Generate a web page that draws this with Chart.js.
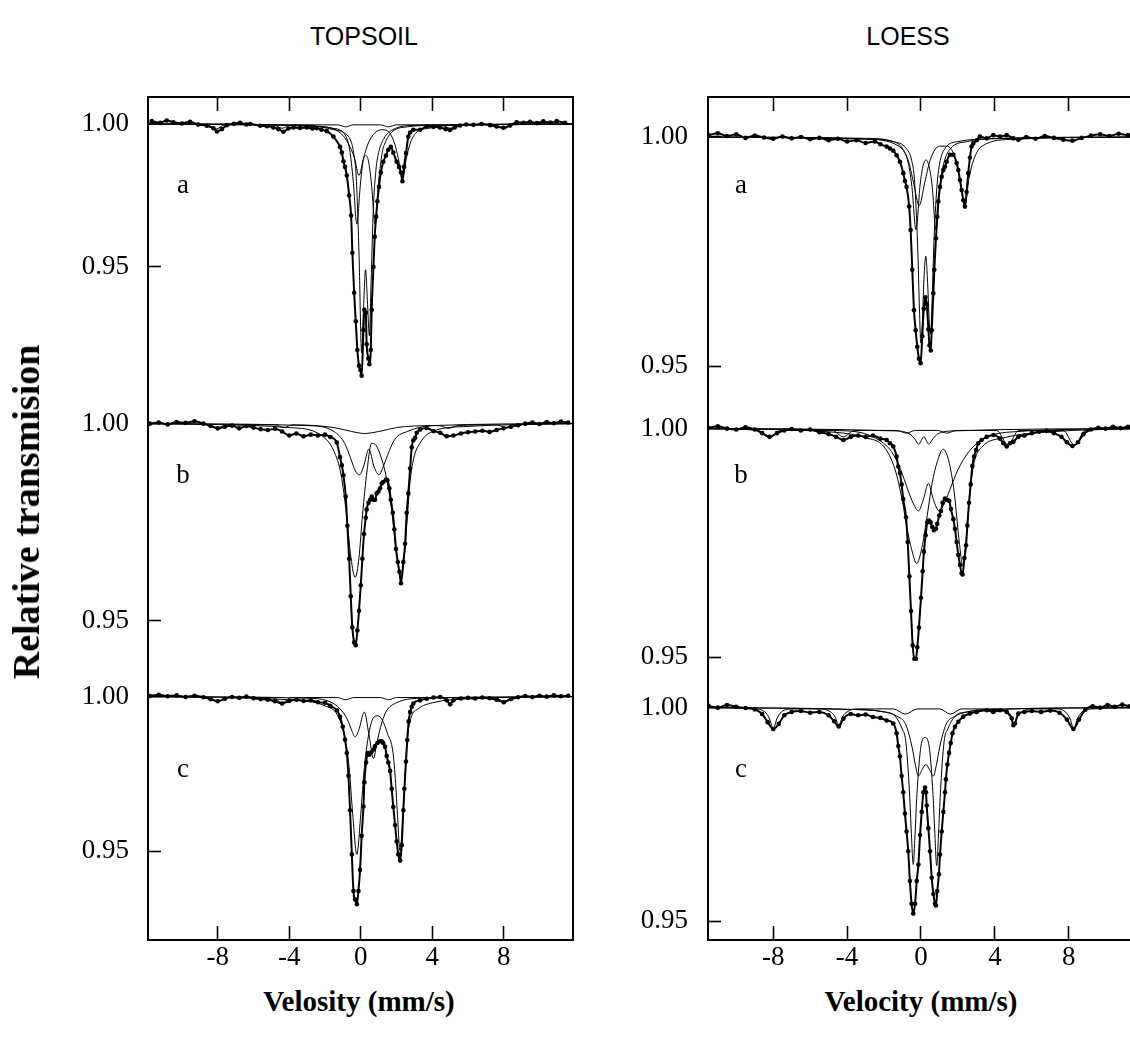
<!DOCTYPE html>
<html>
<head>
<meta charset="utf-8">
<script src="https://cdn.jsdelivr.net/npm/chart.js@4.4.0/dist/chart.umd.min.js"></script>
<style>
  html, body { margin: 0; padding: 0; background: #fff; overflow: hidden; }
  #fig { position: relative; width: 1130px; height: 1055px; overflow: hidden; background: #fff; }
  canvas { position: absolute; }
  .lbl { position: absolute; transform: translate(-50%, -50%); line-height: 1; white-space: nowrap; color: #000; z-index: 5; }
  .title { font: 25px "Liberation Sans", Arial, sans-serif; }
  .xtitle { font: bold 29px "Liberation Serif", "Times New Roman", serif; }
  .ytitle { font: bold 38px "Liberation Serif", "Times New Roman", serif; transform: translate(-50%, -50%) rotate(-90deg); }
  .tag { font: 27px "Liberation Serif", "Times New Roman", serif; }
</style>
</head>
<body>
<div id="fig">
  <canvas id="topA" width="579" height="306" style="left:0px;top:93px"></canvas>
  <canvas id="topB" width="579" height="277" style="left:0px;top:395px"></canvas>
  <canvas id="topC" width="579" height="316" style="left:0px;top:668px"></canvas>
  <canvas id="loeA" width="527" height="306" style="left:620px;top:93px"></canvas>
  <canvas id="loeB" width="527" height="289" style="left:620px;top:395px"></canvas>
  <canvas id="loeC" width="527" height="304" style="left:620px;top:680px"></canvas>

  <div class="lbl title" style="left:364px;top:36px">TOPSOIL</div>
  <div class="lbl title" style="left:908px;top:36px">LOESS</div>
  <div class="lbl ytitle" style="left:26px;top:512px">Relative transmision</div>
  <div class="lbl xtitle" style="left:359px;top:1001px">Velosity (mm/s)</div>
  <div class="lbl xtitle" style="left:921px;top:1001px">Velocity (mm/s)</div>
  <div class="lbl tag" style="left:183px;top:184px">a</div>
  <div class="lbl tag" style="left:183px;top:474px">b</div>
  <div class="lbl tag" style="left:183px;top:768px">c</div>
  <div class="lbl tag" style="left:741px;top:184px">a</div>
  <div class="lbl tag" style="left:741px;top:474px">b</div>
  <div class="lbl tag" style="left:741px;top:768px">c</div>
</div>
<script>
// tick values
const velTicks = [-8, -4, 0, 4, 8];
const transTicks = [0.95, 1.00];

// ---- TOPSOIL a : measured points [velocity mm/s, relative transmission]
const topA_data = [[-11.69,1.0010],[-11.22,1.0004],[-10.85,1.0012],[-10.48,1.0006],[-10.0,1.0002],[-9.55,1.0008],[-9.1,0.9998],[-8.61,0.9994],[-8.24,0.9985],[-8.05,0.9974],[-7.77,0.9982],[-7.49,0.9996],[-7.1,1.0001],[-6.75,1.0004],[-6.4,0.9998],[-6.19,1.0000],[-5.63,0.9994],[-5.25,0.9992],[-4.89,0.9988],[-4.6,0.9982],[-4.33,0.9973],[-4.05,0.9984],[-3.77,0.9988],[-3.4,0.9986],[-3.02,0.9988],[-2.7,0.9984],[-2.46,0.9985],[-2.2,0.9980],[-1.90,0.9975],[-1.53,0.9956],[-1.16,0.9920],[-1.06,0.9900],[-0.97,0.9870],[-0.88,0.9850],[-0.78,0.9820],[-0.65,0.9750],[-0.54,0.9680],[-0.47,0.9550],[-0.37,0.9410],[-0.28,0.9310],[-0.19,0.9210],[-0.10,0.9155],[-0.02,0.9140],[0.05,0.9120],[0.15,0.9280],[0.20,0.9350],[0.28,0.9340],[0.33,0.9230],[0.43,0.9180],[0.48,0.9160],[0.56,0.9210],[0.61,0.9350],[0.71,0.9500],[0.78,0.9606],[0.86,0.9676],[0.93,0.9730],[1.02,0.9780],[1.12,0.9830],[1.26,0.9868],[1.41,0.9890],[1.54,0.9910],[1.68,0.9920],[1.82,0.9900],[2.01,0.9868],[2.14,0.9850],[2.25,0.9830],[2.33,0.9800],[2.42,0.9850],[2.53,0.9898],[2.66,0.9956],[2.76,0.9970],[2.94,0.9980],[3.32,0.9980],[3.69,0.9991],[4.06,0.9990],[4.43,0.9988],[4.75,0.9982],[4.99,0.9979],[5.25,0.9988],[5.55,0.9995],[5.9,0.9998],[6.30,0.9997],[6.75,1.0000],[7.23,0.9996],[7.6,0.9991],[7.98,0.9987],[8.35,0.9995],[8.72,1.0006],[9.1,1.0004],[9.47,1.0008],[9.85,1.0003],[10.21,1.0009],[10.6,1.0005],[10.96,1.0010],[11.43,1.0004]];
const topA_c1 = [[-11.9,1],[-3,0.9995],[-1.5,0.998],[-0.95,0.997],[-0.55,0.994],[-0.4,0.990],[-0.25,0.981],[-0.1,0.955],[0.05,0.920],[0.15,0.935],[0.27,0.949],[0.38,0.937],[0.48,0.926],[0.58,0.945],[0.7,0.970],[0.85,0.984],[1.0,0.990],[1.3,0.995],[1.8,0.998],[3,0.9995],[11.9,1]];
const topA_c2 = [[-11.9,1],[-3,0.9995],[-1.6,0.9985],[-1.2,0.998],[-0.82,0.9955],[-0.62,0.991],[-0.42,0.980],[-0.22,0.965],[-0.02,0.979],[0.13,0.987],[0.28,0.989],[0.43,0.987],[0.6,0.979],[0.8,0.965],[1.0,0.980],[1.2,0.990],[1.4,0.994],[1.8,0.9975],[2.6,0.999],[4,0.9995],[11.9,1]];
const topA_c3 = [[-11.9,1],[-2,0.999],[-1.0,0.996],[-0.6,0.992],[-0.35,0.988],[-0.1,0.982],[0.15,0.988],[0.4,0.993],[0.8,0.997],[1.2,0.998],[1.6,0.997],[1.9,0.993],[2.1,0.988],[2.33,0.981],[2.55,0.988],[2.75,0.993],[3.1,0.997],[3.8,0.9985],[5,0.9995],[11.9,1]];
const topA_c4 = [[-11.9,1],[-8.6,0.9997],[-8.1,0.9982],[-7.6,0.9997],[-4.9,0.9997],[-4.4,0.9985],[-3.9,0.9997],[-1.3,0.9997],[-0.85,0.999],[-0.4,0.9997],[1.1,0.9997],[1.55,0.999],[2.0,0.9997],[4.5,0.9997],[5.0,0.9985],[5.5,0.9997],[7.5,0.9997],[8.0,0.9983],[8.5,0.9997],[11.9,1]];

// ---- TOPSOIL b
const topB_data = [[-11.8,1.0000],[-11.3,1.0003],[-10.8,0.9998],[-10.3,1.0004],[-9.8,1.0002],[-9.3,1.0006],[-8.8,1.0000],[-8.4,0.9994],[-8.0,0.9988],[-7.6,0.9992],[-7.2,0.9995],[-6.8,0.9988],[-6.4,0.9994],[-6.0,0.9990],[-5.6,0.9986],[-5.2,0.9984],[-4.8,0.9987],[-4.4,0.9980],[-4.0,0.9970],[-3.6,0.9975],[-3.2,0.9968],[-2.8,0.9972],[-2.4,0.9970],[-2.0,0.9972],[-1.7,0.9966],[-1.34,0.9952],[-1.16,0.9915],[-1.06,0.9894],[-0.97,0.9869],[-0.84,0.9815],[-0.75,0.9741],[-0.65,0.9657],[-0.56,0.9562],[-0.47,0.9483],[-0.37,0.9445],[-0.28,0.9438],[-0.19,0.9475],[-0.10,0.9525],[0.00,0.9590],[0.09,0.9657],[0.18,0.9720],[0.28,0.9761],[0.33,0.9782],[0.43,0.9799],[0.52,0.9807],[0.61,0.9815],[0.71,0.9807],[0.80,0.9807],[0.89,0.9823],[0.99,0.9828],[1.08,0.9836],[1.17,0.9848],[1.26,0.9852],[1.41,0.9858],[1.49,0.9856],[1.60,0.9836],[1.68,0.9807],[1.79,0.9774],[1.88,0.9732],[1.97,0.9682],[2.07,0.9649],[2.16,0.9624],[2.25,0.9595],[2.38,0.9649],[2.48,0.9695],[2.57,0.9774],[2.66,0.9823],[2.76,0.9886],[2.85,0.9940],[2.94,0.9958],[3.04,0.9964],[3.13,0.9977],[3.32,0.9985],[3.69,0.9989],[4.06,0.9981],[4.44,0.9977],[4.81,0.9968],[5.18,0.9970],[5.6,0.9975],[6.0,0.9978],[6.4,0.9980],[6.8,0.9982],[7.2,0.9979],[7.6,0.9984],[8.0,0.9988],[8.4,0.9992],[8.8,0.9996],[9.2,1.0000],[9.6,1.0003],[10.0,0.9999],[10.4,1.0004],[10.8,1.0001],[11.2,1.0005],[11.6,1.0003]];
const topB_c1 = [[-11.9,1],[-4,0.999],[-2.2,0.997],[-1.5,0.993],[-1.1,0.987],[-0.8,0.977],[-0.55,0.966],[-0.31,0.961],[-0.1,0.966],[0.1,0.977],[0.35,0.988],[0.6,0.995],[0.85,0.9945],[1.1,0.992],[1.4,0.987],[1.7,0.979],[1.95,0.969],[2.25,0.961],[2.45,0.967],[2.6,0.976],[2.75,0.985],[2.95,0.991],[3.3,0.995],[4.0,0.998],[6,0.9993],[11.9,1]];
const topB_c2 = [[-11.9,1],[-3,0.9995],[-1.5,0.998],[-0.9,0.995],[-0.55,0.991],[-0.3,0.988],[-0.08,0.987],[0.15,0.989],[0.45,0.9935],[0.75,0.989],[1.02,0.987],[1.25,0.989],[1.5,0.992],[1.9,0.996],[2.6,0.998],[4,0.9995],[11.9,1]];
const topB_c3 = [[-11.9,1],[-8.5,0.9997],[-8.0,0.999],[-7.5,0.9997],[-4.8,0.9997],[-4.3,0.999],[-3.8,0.9997],[-1.5,0.999],[-0.5,0.998],[0.2,0.9975],[1.0,0.998],[2.0,0.999],[3.0,0.9994],[4.4,0.9995],[4.9,0.9988],[5.4,0.9995],[7.6,0.9997],[8.1,0.999],[8.6,0.9997],[11.9,1]];

// ---- TOPSOIL c
const topC_data = [[-11.8,1.0002],[-11.3,1.0006],[-10.8,1.0001],[-10.3,1.0004],[-9.8,0.9999],[-9.3,1.0003],[-8.8,0.9998],[-8.4,0.9992],[-8.0,0.9985],[-7.6,0.9993],[-7.2,0.9999],[-6.8,0.9996],[-6.4,1.0000],[-6.0,0.9995],[-5.6,0.9992],[-5.2,0.9990],[-4.8,0.9985],[-4.4,0.9978],[-4.0,0.9986],[-3.6,0.9990],[-3.2,0.9986],[-2.8,0.9988],[-2.4,0.9982],[-2.0,0.9980],[-1.7,0.9970],[-1.34,0.9956],[-1.16,0.9935],[-1.01,0.9903],[-0.88,0.9861],[-0.78,0.9818],[-0.69,0.9744],[-0.60,0.9633],[-0.50,0.9490],[-0.41,0.9372],[-0.32,0.9344],[-0.22,0.9329],[-0.13,0.9372],[-0.04,0.9440],[0.05,0.9550],[0.15,0.9645],[0.20,0.9723],[0.30,0.9787],[0.39,0.9818],[0.48,0.9812],[0.58,0.9820],[0.71,0.9829],[0.80,0.9840],[0.93,0.9850],[1.08,0.9856],[1.17,0.9856],[1.26,0.9850],[1.36,0.9838],[1.45,0.9808],[1.54,0.9787],[1.64,0.9760],[1.73,0.9702],[1.82,0.9643],[1.92,0.9585],[2.01,0.9532],[2.10,0.9490],[2.20,0.9470],[2.29,0.9520],[2.38,0.9633],[2.44,0.9702],[2.53,0.9790],[2.60,0.9860],[2.68,0.9920],[2.76,0.9950],[2.85,0.9967],[2.94,0.9978],[3.32,0.9988],[3.69,0.9993],[4.06,0.9997],[4.44,0.9999],[4.81,0.9988],[5.0,0.9975],[5.18,0.9988],[5.6,0.9994],[6.0,0.9996],[6.4,0.9994],[6.8,0.9997],[7.2,0.9995],[7.6,0.9990],[8.0,0.9982],[8.4,0.9992],[8.8,0.9998],[9.2,1.0002],[9.6,0.9999],[10.0,1.0003],[10.4,1.0000],[10.8,1.0004],[11.2,1.0001],[11.6,1.0003]];
const topC_c1 = [[-11.9,1],[-4,0.999],[-2,0.997],[-1.3,0.994],[-0.9,0.987],[-0.65,0.977],[-0.45,0.962],[-0.22,0.949],[0.0,0.962],[0.2,0.977],[0.45,0.988],[0.75,0.9935],[0.95,0.9938],[1.2,0.9925],[1.5,0.988],[1.8,0.982],[1.95,0.972],[2.05,0.962],[2.2,0.950],[2.32,0.958],[2.45,0.972],[2.6,0.986],[2.8,0.993],[3.2,0.996],[4,0.998],[6,0.9993],[11.9,1]];
const topC_c2 = [[-11.9,1],[-3,0.9995],[-1.6,0.998],[-1.0,0.995],[-0.7,0.992],[-0.5,0.989],[-0.32,0.987],[-0.12,0.989],[0.2,0.995],[0.45,0.988],[0.71,0.980],[0.9,0.985],[1.1,0.990],[1.4,0.995],[2.0,0.998],[3.5,0.9995],[11.9,1]];
const topC_c3 = [[-11.9,1],[-8.5,0.9997],[-8.0,0.9985],[-7.5,0.9997],[-4.9,0.9997],[-4.4,0.998],[-3.9,0.9997],[-1.3,0.9997],[-0.85,0.999],[-0.4,0.9997],[1.1,0.9997],[1.55,0.999],[2.0,0.9997],[4.5,0.9997],[5.0,0.998],[5.5,0.9997],[7.5,0.9997],[8.0,0.9985],[8.5,0.9997],[11.9,1]];

// ---- LOESS a
const loeA_data = [[-11.5,1.0004],[-11.0,1.0008],[-10.5,1.0002],[-10.0,1.0006],[-9.5,0.9998],[-9.0,1.0003],[-8.5,0.9999],[-8.0,0.9996],[-7.5,1.0001],[-7.0,0.9997],[-6.5,1.0000],[-6.0,0.9995],[-5.5,0.9998],[-5.0,0.9993],[-4.5,0.9996],[-4.0,0.9990],[-3.5,0.9993],[-3.0,0.9987],[-2.5,0.9990],[-2.2,0.9984],[-1.86,0.9979],[-1.68,0.9975],[-1.50,0.9970],[-1.32,0.9960],[-1.14,0.9946],[-0.96,0.9921],[-0.87,0.9904],[-0.78,0.9891],[-0.64,0.9848],[-0.56,0.9797],[-0.47,0.9710],[-0.38,0.9622],[-0.29,0.9578],[-0.20,0.9542],[-0.11,0.9516],[-0.02,0.9506],[0.07,0.9565],[0.15,0.9625],[0.24,0.9650],[0.31,0.9635],[0.40,0.9580],[0.46,0.9545],[0.53,0.9534],[0.58,0.9578],[0.67,0.9659],[0.72,0.9710],[0.81,0.9779],[0.88,0.9826],[0.94,0.9859],[1.03,0.9891],[1.12,0.9913],[1.21,0.9928],[1.30,0.9935],[1.39,0.9946],[1.57,0.9961],[1.75,0.9961],[1.93,0.9943],[2.02,0.9928],[2.11,0.9906],[2.20,0.9884],[2.29,0.9862],[2.38,0.9848],[2.47,0.9880],[2.56,0.9921],[2.65,0.9955],[2.74,0.9979],[2.83,0.9986],[3.02,0.9993],[3.19,1.0001],[3.56,0.9997],[3.91,1.0004],[4.28,1.0001],[4.64,1.0004],[5.00,0.9997],[5.27,0.9994],[5.7,1.0000],[6.2,0.9996],[6.7,1.0002],[7.2,0.9998],[7.7,0.9994],[8.2,0.9992],[8.7,0.9998],[9.2,1.0003],[9.7,1.0006],[10.2,1.0002],[10.7,1.0007],[11.2,1.0004],[11.7,1.0005]];
const loeA_c1 = [[-11.9,1],[-3,0.9996],[-1.5,0.999],[-0.8,0.9975],[-0.5,0.9948],[-0.34,0.990],[-0.18,0.976],[-0.08,0.962],[-0.01,0.955],[0.07,0.959],[0.16,0.969],[0.26,0.974],[0.36,0.968],[0.45,0.9595],[0.52,0.957],[0.6,0.964],[0.69,0.976],[0.86,0.989],[1.0,0.994],[1.3,0.9975],[2.0,0.999],[4,0.9996],[11.9,1]];
const loeA_c2 = [[-11.9,1],[-3,0.9997],[-1.5,0.999],[-1.0,0.9975],[-0.7,0.9945],[-0.5,0.9895],[-0.27,0.9797],[-0.05,0.9895],[0.1,0.9935],[0.27,0.995],[0.44,0.9935],[0.6,0.9895],[0.81,0.9797],[1.03,0.9895],[1.25,0.9945],[1.6,0.9975],[2.5,0.999],[4,0.9997],[11.9,1]];
const loeA_c3 = [[-11.9,1],[-3,0.9995],[-1.2,0.998],[-0.7,0.995],[-0.4,0.990],[-0.1,0.985],[0.2,0.990],[0.5,0.995],[1.0,0.998],[1.4,0.998],[1.8,0.996],[2.1,0.991],[2.38,0.9852],[2.6,0.991],[2.85,0.995],[3.3,0.998],[5,0.9995],[11.9,1]];

// ---- LOESS b
const loeB_data = [[-11.5,1.0002],[-11.0,1.0005],[-10.5,1.0000],[-10.0,0.9998],[-9.5,1.0003],[-9.0,0.9998],[-8.6,0.9990],[-8.2,0.9982],[-7.8,0.9990],[-7.4,0.9996],[-7.0,0.9999],[-6.5,0.9996],[-6.0,0.9998],[-5.5,0.9992],[-5.0,0.9988],[-4.6,0.9982],[-4.2,0.9975],[-3.8,0.9982],[-3.4,0.9985],[-3.0,0.9982],[-2.6,0.9985],[-2.2,0.9978],[-1.86,0.9975],[-1.68,0.9968],[-1.50,0.9961],[-1.32,0.9939],[-1.23,0.9917],[-1.14,0.9903],[-1.05,0.9878],[-0.96,0.9846],[-0.81,0.9806],[-0.72,0.9752],[-0.63,0.9677],[-0.54,0.9601],[-0.45,0.9526],[-0.36,0.9497],[-0.27,0.9497],[-0.20,0.9522],[-0.11,0.9565],[0.00,0.9630],[0.09,0.9688],[0.16,0.9731],[0.25,0.9767],[0.34,0.9795],[0.43,0.9799],[0.52,0.9795],[0.61,0.9785],[0.70,0.9778],[0.81,0.9781],[0.88,0.9792],[0.99,0.9810],[1.08,0.9820],[1.17,0.9838],[1.30,0.9847],[1.43,0.9844],[1.53,0.9842],[1.62,0.9824],[1.75,0.9802],[1.84,0.9781],[1.93,0.9752],[2.02,0.9724],[2.11,0.9702],[2.20,0.9684],[2.25,0.9681],[2.35,0.9717],[2.44,0.9745],[2.51,0.9788],[2.60,0.9838],[2.69,0.9878],[2.78,0.9918],[2.87,0.9939],[2.98,0.9953],[3.10,0.9968],[3.28,0.9975],[3.56,0.9982],[3.92,0.9986],[4.28,0.9978],[4.46,0.9968],[4.64,0.9961],[4.82,0.9968],[5.00,0.9971],[5.27,0.9982],[5.6,0.9985],[6.0,0.9990],[6.4,0.9993],[6.8,0.9995],[7.2,0.9990],[7.6,0.9982],[7.9,0.9970],[8.2,0.9962],[8.5,0.9970],[8.8,0.9988],[9.2,0.9998],[9.6,1.0002],[10.0,1.0000],[10.4,1.0004],[10.8,1.0001],[11.2,1.0004],[11.6,1.0002]];
const loeB_c1 = [[-11.9,1],[-5,0.9993],[-3,0.998],[-2,0.996],[-1.4,0.991],[-1.0,0.984],[-0.75,0.978],[-0.5,0.9735],[-0.23,0.9705],[0.05,0.974],[0.3,0.980],[0.6,0.988],[0.9,0.993],[1.2,0.9955],[1.5,0.993],[1.8,0.986],[2.05,0.976],[2.27,0.970],[2.4,0.974],[2.55,0.981],[2.7,0.988],[2.9,0.993],[3.3,0.996],[4.5,0.998],[7,0.9993],[11.9,1]];
const loeB_c2 = [[-11.9,1],[-4,0.9995],[-2.5,0.998],[-1.6,0.995],[-1.1,0.991],[-0.7,0.9865],[-0.4,0.9835],[-0.14,0.982],[0.13,0.9845],[0.40,0.988],[0.67,0.9845],[0.98,0.982],[1.25,0.9835],[1.55,0.9865],[2.0,0.991],[2.6,0.995],[3.5,0.998],[5,0.9993],[11.9,1]];
const loeB_c3 = [[-11.9,1],[-1.5,0.9995],[-0.6,0.9988],[-0.35,0.9978],[-0.12,0.9966],[0.15,0.9982],[0.42,0.9966],[0.65,0.9978],[0.9,0.9988],[1.8,0.9995],[11.9,1]];
const loeB_c4 = [[-11.9,1],[-8.8,0.9996],[-8.2,0.998],[-7.6,0.9996],[-4.8,0.9996],[-4.2,0.9982],[-3.6,0.9996],[-1.3,0.9996],[-0.8,0.999],[-0.3,0.9996],[0.9,0.9996],[1.4,0.999],[1.9,0.9996],[4.1,0.9996],[4.7,0.9965],[5.3,0.9996],[7.7,0.9996],[8.3,0.9964],[8.9,0.9996],[11.9,1]];

// ---- LOESS c
const loeC_data = [[-11.5,1.0004],[-11.0,1.0000],[-10.5,1.0006],[-10.0,1.0002],[-9.5,0.9999],[-9.0,0.9996],[-8.6,0.9985],[-8.3,0.9966],[-8.0,0.9950],[-7.7,0.9962],[-7.4,0.9982],[-7.0,0.9990],[-6.5,0.9992],[-6.0,0.9988],[-5.5,0.9990],[-5.0,0.9982],[-4.7,0.9968],[-4.45,0.9956],[-4.2,0.9974],[-3.8,0.9985],[-3.4,0.9982],[-3.0,0.9984],[-2.6,0.9978],[-2.2,0.9976],[-1.86,0.9970],[-1.50,0.9963],[-1.32,0.9940],[-1.23,0.9910],[-1.14,0.9886],[-1.05,0.9840],[-0.96,0.9802],[-0.87,0.9752],[-0.78,0.9710],[-0.69,0.9664],[-0.60,0.9594],[-0.51,0.9541],[-0.42,0.9518],[-0.32,0.9541],[-0.23,0.9594],[-0.14,0.9633],[-0.05,0.9702],[0.04,0.9756],[0.13,0.9802],[0.22,0.9813],[0.27,0.9802],[0.31,0.9771],[0.40,0.9718],[0.49,0.9664],[0.58,0.9602],[0.67,0.9564],[0.76,0.9541],[0.81,0.9537],[0.88,0.9571],[0.97,0.9610],[1.03,0.9656],[1.12,0.9710],[1.21,0.9756],[1.30,0.9802],[1.35,0.9832],[1.43,0.9867],[1.52,0.9894],[1.61,0.9917],[1.71,0.9940],[1.84,0.9955],[2.02,0.9967],[2.29,0.9979],[2.65,0.9986],[3.02,0.9990],[3.56,0.9994],[3.91,0.9990],[4.28,0.9994],[4.64,0.9990],[4.91,0.9975],[5.00,0.9959],[5.09,0.9963],[5.27,0.9986],[5.6,0.9990],[6.0,0.9992],[6.5,0.9990],[7.0,0.9993],[7.5,0.9988],[7.9,0.9972],[8.25,0.9950],[8.55,0.9972],[8.9,0.9995],[9.3,1.0003],[9.7,1.0000],[10.1,1.0006],[10.5,1.0002],[10.9,1.0007],[11.3,1.0003],[11.7,1.0005]];
const loeC_c1 = [[-11.9,1],[-4,0.9996],[-2,0.999],[-1.4,0.998],[-1.02,0.995],[-0.82,0.992],[-0.62,0.980],[-0.52,0.9705],[-0.42,0.9633],[-0.32,0.9705],[-0.22,0.9797],[0.0,0.991],[0.22,0.993],[0.44,0.991],[0.65,0.9797],[0.75,0.9705],[0.85,0.963],[0.95,0.9705],[1.05,0.980],[1.25,0.992],[1.45,0.995],[1.85,0.998],[2.5,0.999],[4,0.9996],[11.9,1]];
const loeC_c2 = [[-11.9,1],[-4,0.9996],[-2,0.999],[-1.3,0.998],[-0.82,0.996],[-0.48,0.9907],[-0.3,0.9865],[-0.14,0.984],[0.06,0.9855],[0.26,0.9867],[0.46,0.9855],[0.67,0.984],[0.83,0.9865],[1.01,0.9907],[1.35,0.996],[1.85,0.998],[2.5,0.999],[4,0.9996],[11.9,1]];
const loeC_c3 = [[-11.9,1],[-9.0,0.9997],[-8.45,0.999],[-8.22,0.9976],[-8.0,0.9952],[-7.78,0.9976],[-7.55,0.999],[-7.0,0.9997],[-5.4,0.9997],[-4.9,0.999],[-4.67,0.998],[-4.45,0.996],[-4.23,0.998],[-4.0,0.999],[-3.5,0.9997],[-1.5,0.9997],[-0.85,0.9985],[-0.2,0.9997],[1.0,0.9997],[1.6,0.9985],[2.2,0.9997],[4.1,0.9997],[4.57,0.999],[4.8,0.998],[5.02,0.9965],[5.24,0.998],[5.47,0.999],[6.0,0.9997],[7.4,0.9997],[7.82,0.999],[8.05,0.9976],[8.27,0.9952],[8.49,0.9976],[8.72,0.999],[9.3,0.9997],[11.9,1]];

Chart.defaults.font.family = '"Liberation Serif", "Times New Roman", serif';

function pts(arr) {
  return arr.map(p => ({ x: p[0], y: p[1] }));
}

// left and right edges of the frame, carried a few px past the plot band
// so the stacked charts join without a gap
const frameSides = {
  id: 'frameSides',
  afterDraw(chart, args, opts) {
    const a = chart.chartArea;
    const ctx = chart.ctx;
    const y0 = a.top - (opts.extTop || 0);
    const y1 = a.bottom + (opts.extBottom || 0);
    ctx.save();
    ctx.strokeStyle = '#000';
    ctx.lineWidth = 2;
    ctx.beginPath();
    ctx.moveTo(a.left, y0);
    ctx.lineTo(a.left, y1);
    ctx.moveTo(a.right, y0);
    ctx.lineTo(a.right, y1);
    ctx.stroke();
    ctx.restore();
  }
};

// scale paddings for first/last tick labels would shrink the plot band
function noPad(s) {
  s.paddingTop = 0; s.paddingBottom = 0; s.paddingLeft = 0; s.paddingRight = 0;
}

function spectrum(id, cfg) {
  var sets = cfg.comps.map(function (c) {
    return { data: pts(c), borderColor: '#000', borderWidth: 1, pointRadius: 0,
             cubicInterpolationMode: 'monotone', fill: false };
  });
  sets.push({ data: pts(cfg.data), borderColor: '#000', borderWidth: 2,
              pointRadius: 2.3, pointBackgroundColor: '#000', pointBorderWidth: 0,
              cubicInterpolationMode: 'monotone', fill: false });
  var isTop = cfg.xPos === 'top';
  var isBottom = cfg.xPos === 'bottom';
  var ext = isBottom ? 0 : 4;
  return new Chart(document.getElementById(id), {
    type: 'line',
    data: { datasets: sets },
    plugins: [frameSides],
    options: {
      responsive: false,
      animation: false,
      events: [],
      layout: { padding: { top: isTop ? 4 : 0, right: 6, bottom: ext, left: 0 } },
      plugins: {
        legend: { display: false },
        tooltip: { enabled: false },
        frameSides: { extTop: isTop ? 1 : 0, extBottom: isBottom ? 1 : ext }
      },
      scales: {
        x: {
          type: 'linear',
          min: cfg.xMin, max: cfg.xMax,
          display: !!cfg.xPos,
          position: cfg.xPos || 'bottom',
          afterBuildTicks: function (s) { s.ticks = velTicks.map(v => ({ value: v })); },
          afterFit: function (s) { s.height = isBottom ? 44 : 0; noPad(s); },
          grid: { drawOnChartArea: false, drawTicks: true, tickLength: -14, tickWidth: 1.6, tickColor: '#000' },
          border: { display: true, color: '#000', width: 2 },
          ticks: { display: isBottom, color: '#000', font: { size: 27 }, padding: 16,
                   maxRotation: 0, autoSkip: false, callback: v => String(v) }
        },
        y: {
          type: 'linear',
          position: 'left',
          min: cfg.yMin, max: cfg.yMax,
          afterBuildTicks: function (s) { s.ticks = transTicks.map(v => ({ value: v })); },
          afterFit: function (s) { s.width = cfg.yW; noPad(s); },
          grid: { drawOnChartArea: false, drawTicks: true, tickLength: -13, tickWidth: 1.6, tickColor: '#000' },
          border: { display: true, color: '#000', width: 2 },
          ticks: { color: '#000', font: { size: 27 }, padding: cfg.yPad, autoSkip: false,
                   callback: v => v.toFixed(2) }
        }
      }
    }
  });
}

// TOPSOIL panel
spectrum('topA', { data: topA_data, comps: [topA_c1, topA_c2, topA_c3, topA_c4], xPos: 'top',
  xMin: -11.9, xMax: 11.87, yMin: 0.90524, yMax: 1.00944, yW: 148, yPad: 32 });
spectrum('topB', { data: topB_data, comps: [topB_c1, topB_c2, topB_c3], xPos: null,
  xMin: -11.9, xMax: 11.87, yMin: 0.938, yMax: 1.00625, yW: 148, yPad: 32 });
spectrum('topC', { data: topC_data, comps: [topC_c1, topC_c2, topC_c3], xPos: 'bottom',
  xMin: -11.9, xMax: 11.87, yMin: 0.92134, yMax: 1.00796, yW: 148, yPad: 32 });

// LOESS panel
spectrum('loeA', { data: loeA_data, comps: [loeA_c1, loeA_c2, loeA_c3], xPos: 'top',
  xMin: -11.53, xMax: 11.91, yMin: 0.94367, yMax: 1.00873, yW: 88, yPad: 33 });
spectrum('loeB', { data: loeB_data, comps: [loeB_c1, loeB_c2, loeB_c3, loeB_c4], xPos: null,
  xMin: -11.53, xMax: 11.91, yMin: 0.94504, yMax: 1.00647, yW: 88, yPad: 33 });
spectrum('loeC', { data: loeC_data, comps: [loeC_c1, loeC_c2, loeC_c3], xPos: 'bottom',
  xMin: -11.53, xMax: 11.91, yMin: 0.94562, yMax: 1.00553, yW: 88, yPad: 33 });
</script>
</body>
</html>
